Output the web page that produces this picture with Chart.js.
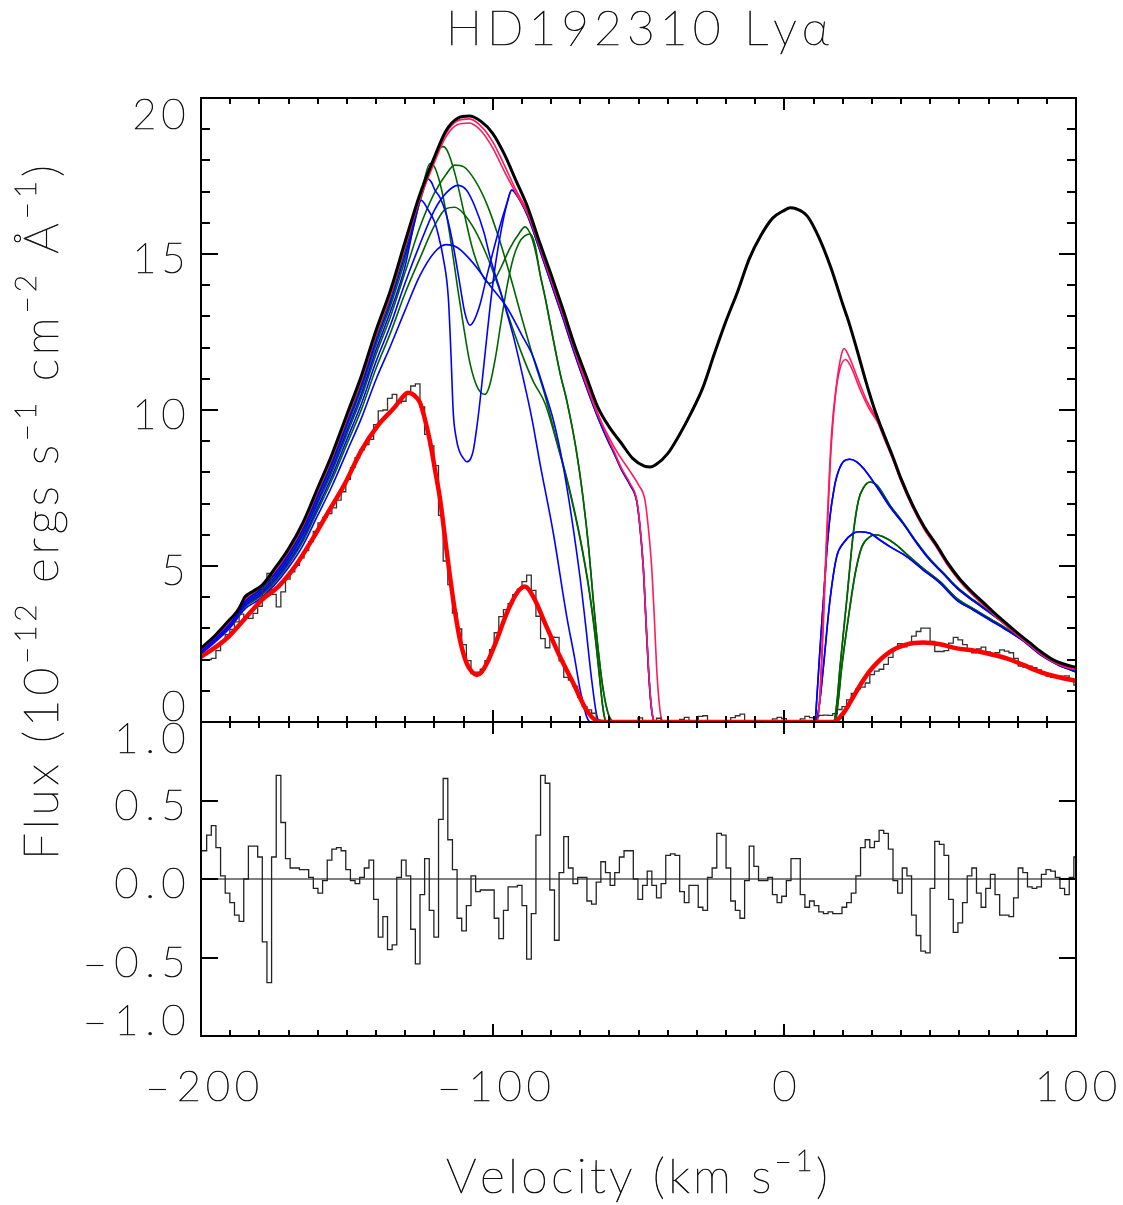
<!DOCTYPE html>
<html>
<head>
<meta charset="utf-8">
<script src="https://cdn.jsdelivr.net/npm/chart.js@4.4.1/dist/chart.umd.min.js"></script>
<style>
  html, body { margin: 0; padding: 0; background: #fff; }
  #wrap { position: relative; width: 1123px; height: 1205px; }
  #wrap canvas { position: absolute; left: 0; top: 0; }
</style>
</head>
<body>
<div id="wrap">
  <canvas id="topPanel" width="1123" height="1205"></canvas>
  <canvas id="bottomPanel" width="1123" height="1205"></canvas>
</div>
<script>
// ---- axes / tick labels
const xTicks = [-200, -100, 0, 100]
const xTickText = ['–200', '–100', '0', '100']
const fluxTicks = [0, 5, 10, 15, 20]
const fluxTickText = ['0', '5', '10', '15', '20']
const residTicks = [-1, -0.5, 0, 0.5, 1]
const residTickText = ['–1.0', '–0.5', '0.0', '0.5', '1.0']

// ---- binned spectrum (km/s bins)
const binStart = -199.65
const binWidth = 1.59

// observed flux, one value per bin
const fluxHist = [
  1.99, 2.0, 2.04, 2.29, 2.58, 2.8, 2.97, 3.21, 3.46, 3.36,
  3.32, 3.48, 3.71, 4.39, 4.76, 4.09, 3.69, 4.17, 4.58, 4.81,
  5.02, 5.26, 5.49, 5.78, 6.11, 6.38, 6.56, 6.68, 6.86, 7.11,
  7.38, 7.78, 8.15, 8.47, 8.72, 8.89, 9.06, 9.53, 9.97, 10.0,
  10.37, 10.5, 10.23, 10.28, 10.53, 10.77, 10.84, 10.1, 9.22, 8.85,
  8.22, 6.62, 5.16, 4.4, 3.49, 2.98, 2.48, 1.97, 1.55, 1.6,
  1.69, 1.97, 2.32, 2.86, 3.38, 3.6, 3.79, 4.08, 4.26, 4.5,
  4.71, 4.22, 3.39, 2.67, 2.38, 2.72, 2.71, 1.96, 1.43, 1.34,
  1.14, 0.79, 0.49, 0.39, 0.28, 0.05, 0, 0, 0.04, 0,
  0, 0, 0, 0, 0.13, 0.04, 0, 0.04, 0.12, 0.03,
  0, 0, 0, 0.08, 0.15, 0.04, 0.04, 0.18, 0.2, 0,
  0, 0, 0, 0, 0.14, 0.2, 0.25, 0.01, 0, 0,
  0.01, 0.01, 0, 0.1, 0.15, 0.11, 0.01, 0, 0, 0.1,
  0.18, 0.14, 0.17, 0.21, 0.22, 0.21, 0.27, 0.4, 0.49, 0.71,
  0.92, 1.06, 1.12, 1.25, 1.52, 1.63, 1.69, 1.85, 2.07, 2.35,
  2.51, 2.41, 2.48, 2.75, 2.9, 3.01, 3.01, 2.58, 2.26, 2.26,
  2.29, 2.53, 2.71, 2.63, 2.48, 2.29, 2.22, 2.34, 2.4, 2.25,
  2.12, 2.22, 2.31, 2.27, 2.22, 2.04, 1.79, 1.76, 1.79, 1.74,
  1.67, 1.54, 1.47, 1.43, 1.43, 1.47, 1.48, 1.34, 1.18
]

// residuals, one value per bin
const residHist = [
  0.18, 0.28, 0.34, 0.20, 0.02, -0.09, -0.15, -0.23, -0.27, 0.00,
  0.21, 0.21, 0.14, -0.40, -0.66, 0.14, 0.66, 0.36, 0.13, 0.07,
  0.07, 0.06, 0.06, 0.01, -0.06, -0.09, -0.01, 0.12, 0.19, 0.20,
  0.18, 0.06, -0.01, -0.03, 0.01, 0.07, 0.12, -0.13, -0.37, -0.24,
  -0.45, -0.42, 0.01, 0.12, 0.02, -0.32, -0.54, -0.10, 0.13, -0.20,
  -0.37, 0.38, 0.64, 0.25, 0.06, -0.25, -0.33, -0.17, 0.02, -0.08,
  -0.07, -0.07, -0.07,
  -0.25, -0.38, -0.20, -0.05, -0.05, -0.04, -0.17, -0.51, -0.22, 0.28,
  0.66, 0.61, -0.07, -0.39, 0.04, 0.27, 0.07, -0.03, 0.01, 0.01,
  -0.14, -0.16, -0.02, 0.11, 0.04, -0.04, 0.04, 0.14, 0.18, 0.18,
  0.00, -0.13, -0.04, 0.05, -0.04, -0.12, -0.03, 0.15, 0.16, 0.15,
  -0.08, -0.15, -0.04, -0.04, -0.18, -0.20, 0.01, 0.07, 0.29, 0.28,
  0.07, -0.14, -0.20, -0.25, -0.01, 0.21, 0.08, -0.01, -0.01, 0.01,
  -0.10, -0.15, -0.11, -0.01, 0.13, 0.13, -0.10, -0.18, -0.14, -0.17,
  -0.21, -0.22, -0.21, -0.22, -0.22, -0.18, -0.15, -0.09, 0.02, 0.20,
  0.25, 0.20, 0.24, 0.31, 0.29, 0.19, -0.01, -0.09, 0.07, 0.02,
  -0.23, -0.36, -0.46, -0.47, -0.06, 0.24, 0.22, 0.15, -0.13, -0.34,
  -0.28, -0.15, 0.02, 0.07, -0.09, -0.18, -0.06, 0.03, -0.10, -0.23,
  -0.23, -0.24, -0.12, 0.07, 0.04, -0.05, -0.06, -0.05, 0.03, 0.06,
  0.05, 0.01, -0.06, -0.10, 0.01, 0.14
]

// ---- model curves [velocity, flux]
const intrinsic = [
  [-200,2.37],[-195,2.79],[-190,3.3],[-187,3.62],[-185,4.0],[-182,4.2],[-179,4.39],[-175,4.88],
  [-170,5.55],[-165,6.4],[-160,7.5],[-155,8.6],[-150,9.85],[-145,11.1],[-140,12.55],[-135,13.85],
  [-130,15.4],[-125,16.9],[-120,18.1],[-116,18.95],[-112,19.35],[-108,19.42],[-104,19.25],[-100,18.87],
  [-96,18.2],[-92,17.35],[-88,16.5],[-84,15.4],[-80,14.35],[-76,13.25],[-72,12.1],[-68,11.1],
  [-64,10.1],[-60,9.45],[-56,8.95],[-52,8.45],[-48,8.2],[-46,8.17],[-44,8.25],[-40,8.6],
  [-36,9.2],[-32,9.9],[-28,10.7],[-24,11.8],[-20,12.85],[-16,13.8],[-12,14.85],[-8,15.6],
  [-4,16.15],[0,16.4],[2,16.48],[4,16.45],[8,16.2],[12,15.5],[16,14.55],[20,13.4],
  [22,12.85],[25,11.9],[28,10.9],[31,10.0],[34,9.25],[37,8.55],[40,7.8],[44,6.95],
  [48,6.25],[52,5.7],[56,5.1],[60,4.6],[64,4.2],[68,3.85],[72,3.5],[76,3.17],
  [80,2.85],[84,2.55],[88,2.25],[92,2.0],[96,1.85],[100,1.75]
]

const bestFit = [
  [-200,2.09],[-195,2.4],[-190.6,2.73],[-184.9,3.32],[-179.2,3.91],[-173.5,4.34],[-167.8,4.98],
  [-162,5.83],[-156.3,6.74],[-150.6,7.65],[-144.9,8.72],[-139.2,9.52],[-133.5,10.1],[-131,10.4],
  [-129,10.55],[-127,10.48],[-125,10.25],[-123.5,9.8],[-121.5,9.0],[-119.8,8.1],[-118,7.12],
  [-115.8,5.5],[-113.5,3.9],[-111.2,2.63],[-108.9,1.88],[-107,1.6],[-105.5,1.51],[-104,1.58],
  [-102,1.88],[-98.6,2.63],[-95.2,3.48],[-91.8,4.12],[-88.9,4.34],[-86.1,4.02],[-81.5,3.05],
  [-76.9,2.09],[-72.35,1.24],[-67.8,0.38],[-64.3,0.04],[-61,0],[16.8,0],[20.2,0.28],
  [23.65,0.81],[27.1,1.35],[30.5,1.77],[36.2,2.25],[42,2.49],[47.6,2.55],[53.4,2.49],
  [59.1,2.36],[64.8,2.29],[70.5,2.18],[76.2,2.04],[81.9,1.83],[87.6,1.61],[93.4,1.45],[100,1.32]
]

const pinkA = [
  [-200,2.34],[-190,3.26],[-185,3.96],[-180,4.32],[-175,4.83],[-170,5.5],[-165,6.34],[-160,7.44],
  [-155,8.53],[-150,9.78],[-145,11.02],[-140,12.47],[-135,13.77],[-130,15.32],[-125,16.82],[-120,18.02],
  [-116,18.87],[-112,19.27],[-108,19.33],[-104,19.1],[-100,18.6],[-96,17.85],[-92,17.05],[-88,16.35],
  [-84,15.3],[-80,14.22],[-76,13.12],[-72,11.98],[-68,10.9],[-64,9.9],[-60,9.0],[-58.6,8.72],
  [-55.8,8.13],[-52.9,7.65],[-50.6,7.12],[-49.5,6.3],[-48.35,4.98],[-47.5,3.4],[-46.6,1.77],[-45.8,0.7],
  [-45,0.12],[-44.3,0],[11,0],[12,0.6],[13,2.6],[14.5,6.0],[16.2,9.25],[18,10.9],
  [19.5,11.75],[20.5,11.97],[22,11.75],[25,11.05],[28,10.35],[31.7,9.7],[34,9.18],[37,8.5],
  [40,7.75],[44,6.9],[48,6.2],[52,5.65],[56,5.05],[60,4.56],[64,4.15],[68,3.8],
  [72,3.45],[76,3.12],[80,2.8],[84,2.5],[88,2.2],[92,1.96],[96,1.8],[100,1.7]
]
const pinkB = [
  [-200,2.32],[-190,3.24],[-185,3.93],[-180,4.29],[-175,4.8],[-170,5.46],[-165,6.3],[-160,7.39],
  [-155,8.48],[-150,9.72],[-145,10.96],[-140,12.41],[-135,13.7],[-130,15.25],[-125,16.74],[-120,17.93],
  [-116,18.76],[-112,19.15],[-108,19.2],[-104,18.95],[-100,18.4],[-96,17.65],[-92,16.95],[-88,16.28],
  [-84,15.25],[-80,14.17],[-76,13.07],[-72,11.93],[-68,10.85],[-64,9.86],[-60,9.1],[-57,8.6],
  [-53,8.05],[-50,7.6],[-47.8,7.12],[-46.6,6.2],[-45.5,4.98],[-44.6,3.4],[-43.8,1.77],[-43,0.7],
  [-42.2,0.12],[-41.5,0],[11.3,0],[12.5,1.2],[14,4.6],[15.8,8.4],[17.5,10.45],[19,11.3],
  [21,11.62],[23,11.35],[26,10.65],[29,10.05],[32,9.6],[34,9.14],[37,8.46],[40,7.72],
  [44,6.87],[48,6.17],[52,5.62],[56,5.02],[60,4.53],[64,4.12],[68,3.77],[72,3.42],
  [76,3.09],[80,2.77],[84,2.47],[88,2.17],[92,1.93],[96,1.77],[100,1.67]
]

// blue models
const blueDeepLeft = [
  [-200,2.25],[-190,3.14],[-185,3.79],[-180,4.13],[-175,4.61],[-170,5.24],[-165,6.04],[-160,7.08],
  [-155,8.14],[-150,9.33],[-145,10.52],[-140,11.92],[-135,13.17],[-130,14.62],[-128,15.5],[-126,16.45],
  [-124.5,16.72],[-122.1,16.41],[-120,16.05],[-118.6,15.6],[-117,14.9],[-115.2,13.6],[-114.3,11.8],
  [-113.5,9.9],[-112.5,9.1],[-111.5,8.7],[-110,8.45],[-108.9,8.34],[-107.5,8.45],[-106.6,8.72],
  [-105.5,9.4],[-104.3,10.32],[-102.5,11.9],[-100.9,13.3],[-99,14.7],[-97,15.8],[-95,16.65],[-93.4,17.05]
]
const blueShallowLeft = [
  [-200,2.28],[-190,3.19],[-185,3.86],[-180,4.21],[-175,4.71],[-170,5.36],[-165,6.18],[-160,7.25],
  [-155,8.33],[-150,9.55],[-145,10.77],[-140,12.2],[-135,13.48],[-130,14.98],[-127,15.95],[-125,16.75],
  [-123.5,17.3],[-122.5,17.42],[-121,17.3],[-119.8,17.05],[-118,16.8],[-116,16.3],[-114.6,15.77],
  [-113,15.0],[-111.2,14.0],[-109.5,13.1],[-107.8,12.72],[-106.5,12.85],[-104.3,13.4],[-102,14.3],
  [-99.8,15.1],[-97.5,15.9],[-95.2,16.6],[-93.5,17.05]
]
const blueVTail = [
  [-92,16.92],[-88,16.22],[-84,15.17],[-80,14.07],[-76,12.97],[-72,11.83],[-68,10.77],[-64,9.78],
  [-60,8.92],[-58.6,8.66],[-55.8,8.08],[-52.9,7.6],[-50.6,7.07],[-49.5,6.25],[-48.35,4.93],[-47.5,3.35],
  [-46.6,1.72],[-45.8,0.66],[-45,0.1],[-44.3,0]
]
const blueBroadA = [
  [-200,2.22],[-190,3.09],[-185,3.72],[-180,4.05],[-175,4.51],[-170,5.12],[-165,5.88],[-160,6.88],
  [-155,7.9],[-150,9.05],[-145,10.2],[-140,11.55],[-135,12.73],[-130,14.08],[-125,15.3],[-120,16.4],
  [-116,16.95],[-112,17.2],[-109,17.05],[-106,16.5],[-103,15.7],[-100.9,14.9],[-97,13.7],[-93,12.4],
  [-89.5,11.0],[-86.6,9.75],[-83.8,8.3],[-79.2,6.05],[-74.6,3.38],[-72,2.1],[-70,1.03],[-67.8,0.18],[-66.5,0]
]
const blueBroadB = [
  [-200,2.17],[-190,3.02],[-185,3.62],[-180,3.93],[-175,4.37],[-170,4.95],[-165,5.67],[-160,6.62],
  [-155,7.58],[-150,8.66],[-145,9.74],[-140,10.98],[-135,12.06],[-130,13.2],[-125,14.3],[-120,15.05],
  [-116,15.3],[-112,15.2],[-106.6,14.7],[-101,14.0],[-95.2,13.3],[-90,12.4],[-86.1,11.7],[-82.5,10.7],
  [-79.2,9.68],[-76,8.3],[-73,6.6],[-70,4.6],[-68,3.0],[-66.5,1.7],[-65.3,0.8],[-64.4,0.25],[-63.7,0.04],[-63,0]
]
const blueHighRight = [
  [10.5,0],[11.1,0.7],[12.2,2.3],[13.4,3.91],[14.5,5.4],[15.65,6.58],[17,7.45],[17.95,7.86],
  [20.2,8.34],[22.5,8.42],[24.8,8.34],[27.1,8.13],[31.7,7.54],[36.2,6.9],[40.8,6.35],[45.4,5.73],
  [49.9,5.19],[54.5,4.75],[59.1,4.3],[64.8,3.88],[70.5,3.5],[76.2,3.1],[81.9,2.67],[87.6,2.2],
  [93.4,1.88],[100,1.7]
]
const blueLowRight = [
  [10.5,0],[11.1,0.06],[12.2,0.7],[13.4,1.77],[15.65,3.91],[17.95,5.3],[20.2,5.73],[23.65,6.05],
  [25.9,6.1],[29.4,6.05],[32.8,5.83],[36.2,5.62],[41.95,5.3],[47.65,4.87],[53.4,4.45],[59.1,3.91],
  [64.8,3.59],[70.5,3.27],[76.2,2.95],[81.9,2.6],[87.6,2.17],[93.4,1.85],[100,1.6]
]

// green models
const greenDeepLeft = [
  [-200,2.27],[-190,3.17],[-185,3.83],[-180,4.18],[-175,4.67],[-170,5.31],[-165,6.12],[-160,7.18],
  [-155,8.25],[-150,9.46],[-145,10.67],[-140,12.08],[-135,13.35],[-130,14.83],[-126,16.3],[-123.5,17.35],
  [-121.5,17.9],[-120,17.8],[-118,17.25],[-116,16.35],[-114,15.2],[-112,13.9],[-110,12.7],[-108,11.6],
  [-106,10.9],[-104,10.55],[-102.6,10.5],[-101,10.8],[-99,11.7],[-97,12.9],[-95,14.0],[-93,14.85],
  [-91,15.35],[-89,15.58],[-87.2,15.64],[-85.5,15.3],[-83.8,14.38]
]
const greenShallowLeft = [
  [-200,2.3],[-190,3.22],[-185,3.9],[-180,4.25],[-175,4.76],[-170,5.42],[-165,6.25],[-160,7.33],
  [-155,8.42],[-150,9.65],[-145,10.88],[-140,12.32],[-135,13.6],[-130,15.12],[-125,16.65],[-121,17.85],
  [-118.5,18.38],[-117,18.44],[-115.5,18.3],[-113,17.6],[-110,16.4],[-107,15.2],[-104,14.4],[-102,14.1],
  [-100.9,14.06],[-99.5,14.15],[-97,14.6],[-94,15.2],[-91,15.65],[-88.9,15.87],[-86.5,15.5],[-85,14.95],[-83.8,14.38]
]
const greenVTail = [
  [-82,13.6],[-80.3,12.78],[-76.9,11.18],[-74.6,10.3],[-71.5,8.8],[-68.9,7.1],[-67,5.5],[-65.5,3.9],
  [-63.8,2.3],[-62.1,1.03],[-60.5,0.3],[-59.5,0.08],[-58.6,0]
]
const greenBroadA = [
  [-200,2.24],[-190,3.12],[-185,3.76],[-180,4.1],[-175,4.57],[-170,5.19],[-165,5.97],[-160,7.0],
  [-155,8.04],[-150,9.22],[-145,10.4],[-140,11.78],[-135,13.0],[-130,14.42],[-125,15.85],[-120,16.95],
  [-116,17.55],[-113,17.85],[-110,17.8],[-106,17.35],[-102,16.6],[-98,15.55],[-94,14.3],[-90,12.95],
  [-86,11.65],[-82,10.45],[-78,9.0],[-74,7.6],[-70,5.9],[-67,4.3],[-65,2.9],[-63.5,1.6],[-62.3,0.55],
  [-61.5,0.1],[-60.8,0]
]
const greenBroadB = [
  [-200,2.2],[-190,3.06],[-185,3.68],[-180,4.0],[-175,4.45],[-170,5.05],[-165,5.8],[-160,6.78],
  [-155,7.78],[-150,8.9],[-145,10.02],[-140,11.33],[-135,12.48],[-130,13.75],[-125,14.85],[-120,15.9],
  [-116,16.45],[-113,16.5],[-110,16.3],[-106,15.75],[-102,14.95],[-98,13.95],[-94,12.85],[-90,11.8],
  [-86,10.9],[-82,10.2],[-78,8.95],[-74,7.55],[-70,5.85],[-67,4.25],[-65,2.85],[-63.5,1.55],[-62.3,0.5],
  [-61.5,0.08],[-60.8,0]
]
const greenHighRight = [
  [16.8,0],[18,0.6],[19.1,1.77],[21.4,3.91],[23.65,6.05],[25.4,7.1],[27.1,7.5],[29.4,7.69],
  [31.7,7.59],[36.2,6.95],[40.8,6.38],[45.4,5.76],[49.9,5.22],[54.5,4.78],[59.1,4.33],[64.8,3.91],
  [70.5,3.53],[76.2,3.13],[81.9,2.69],[87.6,2.22],[93.4,1.9],[100,1.72]
]
const greenLowRight = [
  [17.4,0],[18.5,0.7],[19.7,1.77],[22,3.37],[24.3,4.76],[26.6,5.62],[29.4,5.94],[31.1,6.0],
  [33.9,5.94],[38.5,5.67],[42,5.37],[47.65,4.92],[53.4,4.5],[59.1,3.96],[64.8,3.63],[70.5,3.31],
  [76.2,2.99],[81.9,2.63],[87.6,2.2],[93.4,1.88],[100,1.63]
]

const PINK = '#ff1a5c'
const BLUE = '#0000ff'
const GREEN = '#006400'
const FONT = 'Lato, "DejaVu Sans", sans-serif'

function toPts(arr) { return arr.map(p => ({ x: p[0], y: p[1] })) }

function histPts(vals) {
    let p = vals.map((v, i) => ({ x: binStart + i * binWidth, y: v }))
    p.push({ x: binStart + vals.length * binWidth, y: vals[vals.length - 1] })
    return p
}

function curve(arr, color, width) {
    return { data: toPts(arr), borderColor: color, borderWidth: width, pointRadius: 0,
             fill: false, cubicInterpolationMode: 'monotone' }
}

function steps(vals, color, width) {
    return { data: histPts(vals), borderColor: color, borderWidth: width, pointRadius: 0,
             fill: false, stepped: true }
}

// ---- text helpers (thin face, lightly stroked so it reads dark like the plotter font)
function fnt(size) { return '200 ' + size + 'px ' + FONT }
function ink(ctx, s, x, y) {
    ctx.fillText(s, x, y)
    ctx.strokeText(s, x, y)
}

// numeric labels, IDL-like wide spacing
const ADV = { '–': 34, '.': 18, ' ': 12 }
function numWidth(s) {
    let w = 0
    for (const c of s) w += (ADV[c] || 29)
    return w - 6
}
function drawNum(ctx, s, left, baseline) {
    ctx.font = fnt(42)
    ctx.textAlign = 'center'
    let cx = left
    for (const c of s) {
        const adv = ADV[c] || 29
        ink(ctx, c, cx + (adv - 6) / 2, baseline)
        cx += adv
    }
}

// text runs with superscripts, spread to a target length
function drawRuns(ctx, runs, x0, y0, target, size) {
    const sup = Math.round(size * 0.62)
    let chars = []
    runs.forEach(r => { for (const ch of r.t) chars.push({ ch: ch, sup: r.sup }) })
    let total = 0
    chars.forEach(c => {
        ctx.font = fnt(c.sup ? sup : size)
        c.w = ctx.measureText(c.ch).width
        total += c.w
    })
    const gap = (target - total) / (chars.length - 1)
    ctx.textAlign = 'left'
    let x = x0
    chars.forEach(c => {
        ctx.font = fnt(c.sup ? sup : size)
        ink(ctx, c.ch, x, y0 - (c.sup ? size * 0.46 : 0))
        x += c.w + gap
    })
}

// ---- IDL style frame, ticks and labels
const idlFrame = {
    id: 'idlFrame',
    afterDraw(chart) {
        const o = chart.options.plugins.idlFrame
        const ctx = chart.ctx
        const a = chart.chartArea
        const xs = chart.scales.x, ys = chart.scales.y
        ctx.save()
        ctx.strokeStyle = '#000'
        ctx.fillStyle = '#000'
        ctx.lineWidth = 2
        ctx.strokeRect(a.left, a.top, a.right - a.left, a.bottom - a.top)

        ctx.beginPath()
        for (let v = -200; v <= 100; v += 10) {
            const px = Math.round(xs.getPixelForValue(v))
            const len = v % 100 === 0 ? 12 : 6
            ctx.moveTo(px, a.top); ctx.lineTo(px, a.top + len)
            ctx.moveTo(px, a.bottom); ctx.lineTo(px, a.bottom - len)
        }
        const n = Math.round((o.yMax - o.yMin) / o.minor)
        for (let k = 0; k <= n; k++) {
            const t = o.yMin + k * o.minor
            const py = Math.round(ys.getPixelForValue(t))
            const r = t / o.major
            const len = Math.abs(r - Math.round(r)) < 1e-6 ? 17 : 9
            ctx.moveTo(a.left, py); ctx.lineTo(a.left + len, py)
            ctx.moveTo(a.right, py); ctx.lineTo(a.right - len, py)
        }
        ctx.stroke()

        // text
        ctx.lineWidth = 0.7
        ctx.fillStyle = '#111'
        ctx.strokeStyle = '#111'
        ctx.textBaseline = 'alphabetic'
        // y tick labels, right aligned, pulled inside the panel at the ends
        o.ticks.forEach((t, i) => {
            const s = o.tickText[i]
            let cy = ys.getPixelForValue(t) + 4
            cy = Math.min(Math.max(cy, a.top + 16), a.bottom - 16)
            drawNum(ctx, s, 185 - numWidth(s), cy + 15)
        })

        if (o.xLabels) {
            xTicks.forEach((t, i) => {
                const s = xTickText[i]
                drawNum(ctx, s, xs.getPixelForValue(t) - numWidth(s) / 2, 1101)
            })
            drawRuns(ctx, [{ t: 'Velocity (km s' }, { t: '–1', sup: true }, { t: ')' }],
                     446, 1193, 382, 48)
        }
        if (o.titles) {
            drawRuns(ctx, [{ t: 'HD192310 Lyα' }], 446, 45, 383, 48)
            ctx.save()
            ctx.translate(58, 860)
            ctx.rotate(-Math.PI / 2)
            drawRuns(ctx, [
                { t: 'Flux (10' }, { t: '–12', sup: true }, { t: ' ergs s' }, { t: '–1', sup: true },
                { t: ' cm' }, { t: '–2', sup: true }, { t: ' Å' }, { t: '–1', sup: true }, { t: ')' }
            ], 0, 0, 695, 48)
            ctx.restore()
        }
        ctx.restore()
    }
}

const baseScales = (ymin, ymax) => ({
    x: { type: 'linear', min: -200, max: 100, display: false },
    y: { type: 'linear', min: ymin, max: ymax, display: false }
})

// top panel: flux
new Chart(document.getElementById('topPanel'), {
    type: 'line',
    data: {
        datasets: [
            curve(bestFit, '#ff0000', 4.5),
            curve(intrinsic, '#000000', 3),
            steps(fluxHist, '#333333', 1.3),
            curve(pinkA, PINK, 1.6),
            curve(pinkB, PINK, 1.6),
            curve(blueDeepLeft.concat(blueVTail, blueHighRight), BLUE, 1.6),
            curve(blueShallowLeft.concat(blueVTail, blueHighRight), BLUE, 1.6),
            curve(blueBroadA.concat(blueLowRight), BLUE, 1.6),
            curve(blueBroadB.concat(blueLowRight), BLUE, 1.6),
            curve(greenDeepLeft.concat(greenVTail, greenHighRight), GREEN, 1.6),
            curve(greenShallowLeft.concat(greenVTail, greenHighRight), GREEN, 1.6),
            curve(greenBroadA.concat(greenLowRight), GREEN, 1.6),
            curve(greenBroadB.concat(greenLowRight), GREEN, 1.6)
        ]
    },
    options: {
        responsive: false,
        animation: false,
        devicePixelRatio: 1,
        layout: { padding: { left: 201, right: 47, top: 98, bottom: 483 } },
        scales: baseScales(0, 20),
        plugins: {
            legend: { display: false },
            tooltip: { enabled: false },
            idlFrame: { yMin: 0, yMax: 20, minor: 1, major: 5, ticks: fluxTicks,
                        tickText: fluxTickText, titles: true, xLabels: false }
        }
    },
    plugins: [idlFrame]
})

// bottom panel: residuals
new Chart(document.getElementById('bottomPanel'), {
    type: 'line',
    data: {
        datasets: [
            steps(residHist, '#222222', 1.3),
            curve([[-200, 0], [100, 0]], '#000000', 1.2)
        ]
    },
    options: {
        responsive: false,
        animation: false,
        devicePixelRatio: 1,
        layout: { padding: { left: 201, right: 47, top: 722, bottom: 169 } },
        scales: baseScales(-1, 1),
        plugins: {
            legend: { display: false },
            tooltip: { enabled: false },
            idlFrame: { yMin: -1, yMax: 1, minor: 0.5, major: 0.5, ticks: residTicks,
                        tickText: residTickText, titles: false, xLabels: true }
        }
    },
    plugins: [idlFrame]
})
</script>
</body>
</html>
